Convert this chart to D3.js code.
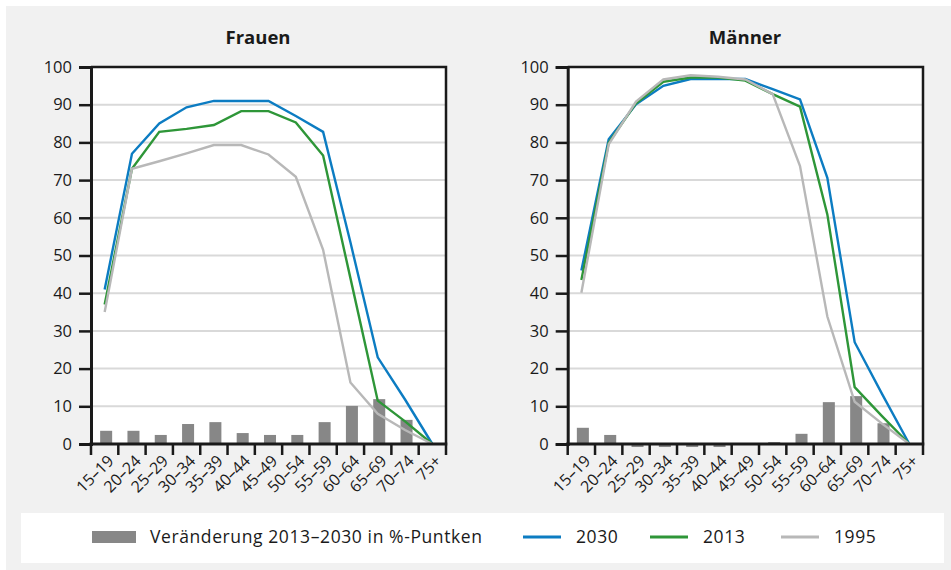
<!DOCTYPE html>
<html>
<head>
<meta charset="utf-8">
<script src="https://cdn.jsdelivr.net/npm/d3@7"></script>
<style>
  body { margin: 0; background: #fff; }
  text { font-family: "Open Sans", sans-serif; fill: #1a1a1a; }
</style>
</head>
<body>
<div id="chart"></div>
<script>
// Age groups (x categories)
var ageGroups = ["15–19", "20–24", "25–29", "30–34", "35–39", "40–44", "45–49",
                 "50–54", "55–59", "60–64", "65–69", "70–74", "75+"];

// Frauen
var frauen2030 = [41, 77, 85, 89.3, 91, 91, 91, 87, 82.8, 53.5, 23, 11.8, 0];
var frauen2013 = [37, 73, 82.8, 83.6, 84.6, 88.3, 88.3, 85.3, 76.5, 44, 11.5, 6, 0];
var frauen1995 = [35, 73, 75, 77.1, 79.3, 79.3, 76.8, 70.9, 51.5, 16.3, 8, 3.7, 0];
var frauenDiff = [3.5, 3.5, 2.4, 5.3, 5.8, 2.9, 2.4, 2.4, 5.8, 10.1, 11.9, 6.4, 0];

// Männer
var maenner2030 = [46, 80.8, 90.1, 95, 96.8, 96.8, 96.8, 94.1, 91.4, 70.6, 27, 13.3, 0];
var maenner2013 = [43.5, 79.9, 90.4, 96.1, 97.2, 97.2, 96.4, 92.8, 89.5, 60.9, 15.1, 7.4, 0];
var maenner1995 = [40.1, 79.5, 90.8, 96.7, 97.8, 97.4, 96.7, 92.8, 73.7, 33.8, 11.2, 5.4, 0];
var maennerDiff = [4.3, 2.4, -0.8, -0.8, -0.8, -0.8, 0.1, 0.5, 2.7, 11.1, 12.7, 5.5, 0];

var yTicks = [0, 10, 20, 30, 40, 50, 60, 70, 80, 90, 100];

var colors = { y2030: "#0c7cc2", y2013: "#2e9638", y1995: "#b8b8b8", bar: "#878787" };

var svgWidth = 951;
var svgHeight = 570;

var svg = d3.select("#chart")
    .append("svg")
    .attr("width", svgWidth)
    .attr("height", svgHeight);

// gray backdrop
svg.append("rect")
    .attr("x", 6).attr("y", 6)
    .attr("width", svgWidth - 6).attr("height", svgHeight - 6)
    .attr("fill", "#f1f1f1");

var plotTop = 67;
var plotBottom = 444;

var y = d3.scaleLinear()
    .domain([0, 100])
    .range([plotBottom, plotTop]);

function drawPanel(x0, x1, title, titleX, s2030, s2013, s1995, diff) {
    var g = svg.append("g");

    var xBand = d3.scaleBand()
        .domain(ageGroups)
        .range([x0, x1])
        .paddingInner(0.56)
        .paddingOuter(0.28);

    var xPoint = d3.scalePoint()
        .domain(ageGroups)
        .range([x0, x1])
        .padding(0.5);

    // plot background
    g.append("rect")
        .attr("x", x0).attr("y", plotTop)
        .attr("width", x1 - x0).attr("height", plotBottom - plotTop)
        .attr("fill", "#fff");

    // gridlines
    g.selectAll(".grid")
        .data(yTicks.filter(function(t) { return t > 0 && t < 100; }))
        .enter()
        .append("line")
        .attr("x1", x0).attr("x2", x1)
        .attr("y1", function(d) { return y(d); })
        .attr("y2", function(d) { return y(d); })
        .attr("stroke", "#d9d9d9")
        .attr("stroke-width", 2);

    // bars: Veränderung 2013–2030
    g.selectAll(".bar")
        .data(diff)
        .enter()
        .append("rect")
        .attr("x", function(d, i) { return xBand(ageGroups[i]) + 1.5; })
        .attr("y", function(d) { return y(Math.max(0, d)); })
        .attr("width", xBand.bandwidth())
        .attr("height", function(d) { return Math.abs(y(d) - y(0)); })
        .attr("fill", colors.bar);

    var line = d3.line()
        .x(function(d, i) { return xPoint(ageGroups[i]); })
        .y(function(d) { return y(d); });

    [[s2030, colors.y2030], [s2013, colors.y2013], [s1995, colors.y1995]].forEach(function(s) {
        g.append("path")
            .datum(s[0])
            .attr("d", line)
            .attr("fill", "none")
            .attr("stroke", s[1])
            .attr("stroke-width", 2.4);
    });

    // frame (top + right)
    g.append("path")
        .attr("d", "M" + x0 + "," + plotTop + "H" + x1 + "V" + plotBottom)
        .attr("fill", "none")
        .attr("stroke", "#1a1a1a")
        .attr("stroke-width", 2.5);

    // y axis
    var leftAxis = d3.axisLeft(y)
        .tickValues(yTicks)
        .tickSize(12)
        .tickPadding(7);

    var yAxis = g.append("g")
        .attr("transform", "translate(" + x0 + ",0)")
        .call(leftAxis);
    yAxis.select(".domain").attr("stroke", "#1a1a1a").attr("stroke-width", 3);
    yAxis.selectAll(".tick line").attr("stroke", "#1a1a1a").attr("stroke-width", 2.5);
    yAxis.selectAll(".tick text")
        .style("font-family", "'Open Sans', sans-serif")
        .style("font-size", "16.5px")
        .attr("fill", "#1a1a1a");

    // x axis: ticks at band boundaries
    var xg = g.append("g");
    xg.append("line")
        .attr("x1", x0 - 1.5).attr("x2", x1 + 1.25)
        .attr("y1", plotBottom).attr("y2", plotBottom)
        .attr("stroke", "#1a1a1a").attr("stroke-width", 3);
    var tickXs = d3.range(ageGroups.length + 1).map(function(i) { return x0 + i * xBand.step(); });
    xg.selectAll(".xt")
        .data(tickXs)
        .enter()
        .append("line")
        .attr("x1", function(d) { return d; })
        .attr("x2", function(d) { return d; })
        .attr("y1", plotBottom)
        .attr("y2", plotBottom + 11)
        .attr("stroke", "#1a1a1a")
        .attr("stroke-width", 2.5);

    xg.selectAll(".xl")
        .data(ageGroups)
        .enter()
        .append("text")
        .attr("transform", function(d) {
            return "translate(" + (xPoint(d) + 10) + "," + (plotBottom + 18) + ") rotate(-45)";
        })
        .attr("text-anchor", "end")
        .style("font-size", "16px")
        .text(function(d) { return d; });

    // title
    g.append("text")
        .attr("x", titleX)
        .attr("y", 44)
        .attr("text-anchor", "middle")
        .style("font-size", "18.5px")
        .style("font-weight", "bold")
        .text(title);
}

drawPanel(91, 446, "Frauen", 258, frauen2030, frauen2013, frauen1995, frauenDiff);
drawPanel(567.7, 923, "Männer", 745, maenner2030, maenner2013, maenner1995, maennerDiff);

// Legend
var legend = svg.append("g");
legend.append("rect")
    .attr("x", 21).attr("y", 513)
    .attr("width", 923).attr("height", 50)
    .attr("fill", "#fff");

legend.append("rect")
    .attr("x", 92).attr("y", 531)
    .attr("width", 44).attr("height", 12)
    .attr("fill", colors.bar);
legend.append("text")
    .attr("x", 150).attr("y", 543)
    .style("font-size", "17.5px")
    .style("letter-spacing", "0.6px")
    .text("Veränderung 2013–2030 in %-Puntken");

var lineItems = [
    { label: "2030", color: colors.y2030, x: 523 },
    { label: "2013", color: colors.y2013, x: 650 },
    { label: "1995", color: colors.y1995, x: 781 }
];
lineItems.forEach(function(item) {
    legend.append("line")
        .attr("x1", item.x).attr("x2", item.x + 38)
        .attr("y1", 537).attr("y2", 537)
        .attr("stroke", item.color)
        .attr("stroke-width", 3);
    legend.append("text")
        .attr("x", item.x + 53).attr("y", 543)
        .style("font-size", "17.5px")
        .style("letter-spacing", "0.6px")
        .text(item.label);
});
</script>
</body>
</html>
